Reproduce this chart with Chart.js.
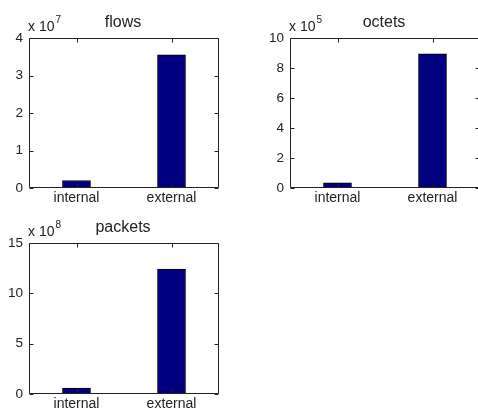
<!DOCTYPE html>
<html><head><meta charset="utf-8">
<script src="https://cdn.jsdelivr.net/npm/chart.js@4/dist/chart.umd.min.js"></script>
<style>
html,body{margin:0;padding:0;background:#fff;overflow:hidden;width:478px;height:410px;}
canvas{position:absolute;}
</style></head><body>
<canvas id="c1" width="240" height="210" style="left:0;top:0;width:240px;height:210px"></canvas>
<canvas id="c2" width="250" height="210" style="left:240px;top:0;width:250px;height:210px"></canvas>
<canvas id="c3" width="240" height="200" style="left:0;top:210px;width:240px;height:200px"></canvas>
<script>
const categories = ['internal', 'external'];
const flowsValues = [0.2, 3.55];      // x 10^7
const octetsValues = [0.35, 8.95];    // x 10^5
const packetsValues = [0.6, 12.4];    // x 10^8
const flowsTicks = [0, 1, 2, 3, 4];
const octetsTicks = [0, 2, 4, 6, 8, 10];
const packetsTicks = [0, 5, 10, 15];
const titles = ['flows', 'octets', 'packets'];
const exponents = ['7', '5', '8'];

const FONT = '"Liberation Sans", Arial, sans-serif';
const TXT = '#222';

const framePlugin = {
  id: 'frame',
  afterDraw(chart, args, opts) {
    const ctx = chart.ctx, a = chart.chartArea;
    const ys = chart.scales.y, xs = chart.scales.x;
    ctx.save();
    ctx.strokeStyle = '#222';
    ctx.lineWidth = 1;
    const L = Math.round(a.left) + 0.5, R = Math.round(a.right) - 0.5;
    const T = Math.round(a.top) + 0.5, B = Math.round(a.bottom) - 0.5;
    ctx.beginPath();
    ctx.rect(L, T, R - L, B - T);
    ctx.stroke();
    ctx.beginPath();
    ys.ticks.forEach(t => {
      const y = Math.round(ys.getPixelForValue(t.value)) + 0.5;
      ctx.moveTo(L, y); ctx.lineTo(L + 4, y);
      ctx.moveTo(R, y); ctx.lineTo(R - 4, y);
    });
    xs.ticks.forEach((t, i) => {
      const x = Math.round(xs.getPixelForTick(i)) + 0.5;
      ctx.moveTo(x, T); ctx.lineTo(x, T + 4);
      ctx.moveTo(x, B); ctx.lineTo(x, B - 4);
    });
    ctx.stroke();
    // title
    ctx.fillStyle = TXT;
    ctx.font = '16px ' + FONT;
    ctx.textAlign = 'center';
    ctx.textBaseline = 'alphabetic';
    ctx.fillText(opts.title, (a.left + a.right) / 2 - 1, a.top - 11);
    // exponent
    ctx.textAlign = 'left';
    ctx.font = '14px ' + FONT;
    const base = 'x 10';
    ctx.fillText(base, a.left - 1, a.top - 7);
    const w = ctx.measureText(base).width;
    ctx.font = '10px ' + FONT;
    ctx.fillText(opts.exp, a.left - 1 + w + 1, a.top - 15);
    ctx.restore();
  }
};

function makeChart(id, values, ticks, title, exp, yWidth, xHeight, padTop, padRight) {
  const tickSet = ticks.slice();
  new Chart(document.getElementById(id), {
    type: 'bar',
    data: {
      labels: categories,
      datasets: [{
        data: values,
        backgroundColor: '#000080',
        borderColor: '#000000',
        borderWidth: 1,
        borderSkipped: false,
        barThickness: 28
      }]
    },
    options: {
      responsive: false,
      animation: false,
      devicePixelRatio: 1,
      layout: { padding: { top: padTop, right: padRight, left: 0, bottom: 0 } },
      plugins: {
        legend: { display: false },
        tooltip: { enabled: false },
        frame: { title: title, exp: exp }
      },
      scales: {
        x: {
          grid: { display: false, drawTicks: false },
          border: { display: false },
          ticks: { color: TXT, font: { family: FONT, size: 14 }, padding: 2, maxRotation: 0 },
          afterFit(s) { s.height = xHeight; }
        },
        y: {
          min: tickSet[0],
          max: tickSet[tickSet.length - 1],
          afterBuildTicks(s) { s.ticks = tickSet.map(v => ({ value: v })); },
          grid: { display: false, drawTicks: false },
          border: { display: false },
          ticks: { color: TXT, font: { family: FONT, size: 13.5 }, padding: 6 },
          afterFit(s) { s.width = yWidth; }
        }
      }
    },
    plugins: [framePlugin]
  });
}

makeChart('c1', flowsValues, flowsTicks, titles[0], exponents[0], 29, 22, 38, 21);
makeChart('c2', octetsValues, octetsTicks, titles[1], exponents[1], 50, 22, 38, 10);
makeChart('c3', packetsValues, packetsTicks, titles[2], exponents[2], 29, 16, 33, 21);
</script>
</body></html>
